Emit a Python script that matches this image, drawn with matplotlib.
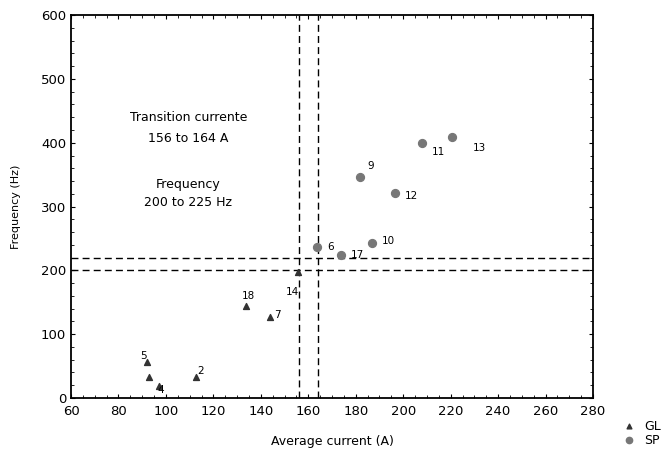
import matplotlib.pyplot as plt
from matplotlib.ticker import MultipleLocator

plt.rcParams['font.family'] = ['DejaVu Sans']

# GL points (triangles)
gl_x = [91.9, 92.9, 97.2, 112.5, 133.7, 143.9, 155.7]
gl_y = [57, 33, 19, 33, 144, 127, 197]
gl_labels = ['5', '', '4', '2', '18', '7', '14']
gl_offsets = [(-5, 2), (0, 0), (-1, -5), (1, 2), (-3, 5), (3, -1), (-9, -16)]

# SP points (circles)
sp_x = [163.8, 173.8, 186.7, 181.9, 196.7, 207.8, 220.6]
sp_y = [237, 224, 243, 346, 322, 400, 409]
sp_labels = ['6', '17', '10', '9', '12', '11', '13']
sp_offsets = [(7, -2), (7, -2), (7, -1), (5, 6), (7, -5), (7, -9), (15, -10)]

trans_current = [156, 164]
trans_freq = [200, 220]

fig = plt.figure(figsize=(6.62, 4.51), dpi=100)
ax = fig.add_axes([0.1073, 0.1175, 0.7885, 0.849])

gl = ax.scatter(gl_x, gl_y, marker='^', s=18, color='#333333', label='GL', zorder=3)
sp = ax.scatter(sp_x, sp_y, marker='o', s=32, color='#777777', label='SP', zorder=3)

for x, y, t, (dx, dy) in zip(gl_x, gl_y, gl_labels, gl_offsets):
    ax.annotate(t, (x, y), xytext=(dx, dy), textcoords='offset points', fontsize=7.5)
for x, y, t, (dx, dy) in zip(sp_x, sp_y, sp_labels, sp_offsets):
    ax.annotate(t, (x, y), xytext=(dx, dy), textcoords='offset points', fontsize=7.5)

for v in trans_current:
    ax.axvline(v, color='black', linestyle=(0, (5, 3)), linewidth=1)
for h in trans_freq:
    ax.axhline(h, color='black', linestyle=(0, (5, 3)), linewidth=1)

ax.text(109.5, 439, 'Transition currente', ha='center', va='center', fontsize=9)
ax.text(109.5, 407, '156 to 164 A', ha='center', va='center', fontsize=9)
ax.text(109.5, 335, 'Frequency', ha='center', va='center', fontsize=9)
ax.text(109.5, 307, '200 to 225 Hz', ha='center', va='center', fontsize=9)

ax.set_xlim(60, 280)
ax.set_ylim(0, 600)
ax.xaxis.set_major_locator(MultipleLocator(20))
ax.xaxis.set_minor_locator(MultipleLocator(5))
ax.yaxis.set_major_locator(MultipleLocator(100))
ax.yaxis.set_minor_locator(MultipleLocator(20))
ax.tick_params(which='both', direction='in', top=True, right=True, labelsize=9.5)
ax.tick_params(axis='x', which='major', pad=5)
ax.tick_params(which='major', length=3)
ax.tick_params(which='minor', length=2)
for s in ax.spines.values():
    s.set_linewidth(1.3)

ax.set_xlabel('Average current (A)', fontsize=9, labelpad=12)
ax.set_ylabel('Frequency (Hz)', fontsize=8, labelpad=14)

fig.legend(handles=[gl, sp], loc='lower right', bbox_to_anchor=(1.012, -0.01),
           frameon=False, fontsize=9, handletextpad=0.2, labelspacing=0.1,
           markerscale=0.8, borderpad=0.2)

fig.savefig('out.png', dpi=100)
